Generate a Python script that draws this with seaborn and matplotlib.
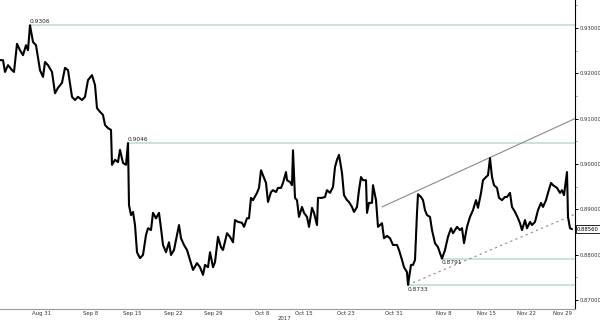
import matplotlib
matplotlib.use("Agg")
import matplotlib.pyplot as plt
import seaborn as sns
import pandas as pd
import numpy as np

# ---- data ----
bar_pos = [0, 3, 5, 8, 12, 14, 17, 20, 23, 26, 28, 30, 33, 36, 40, 43, 45, 48, 52, 55,
           58, 62, 65, 68, 72, 75, 78, 82, 85, 88, 92, 95, 97, 100, 103, 105, 108, 111, 112, 115,
           118, 120, 123, 126, 128, 129, 131, 133, 135, 137, 140, 143, 146, 148, 151, 153, 156, 159, 161, 163,
           166, 169, 171, 174, 177, 179, 181, 184, 187, 190, 193, 197, 200, 203, 205, 208, 210, 213, 215, 218,
           221, 223, 227, 230, 233, 235, 238, 242, 244, 247, 249, 251, 253, 257, 259, 261, 263, 266, 268, 271,
           273, 276, 278, 281, 283, 286, 287, 290, 292, 293, 295, 297, 299, 302, 304, 307, 309, 312, 314, 317,
           318, 322, 325, 327, 330, 333, 335, 337, 339, 342, 344, 347, 349, 352, 354, 357, 359, 361, 363, 366,
           367, 369, 372, 373, 376, 378, 380, 382, 384, 387, 390, 393, 397, 399, 402, 404, 407, 408, 411, 413,
           415, 417, 418, 421, 423, 425, 427, 430, 432, 435, 438, 440, 442, 445, 448, 451, 453, 457, 460, 462,
           464, 467, 470, 473, 476, 478, 481, 483, 486, 488, 490, 492, 494, 497, 499, 502, 505, 507, 510, 512,
           515, 518, 520, 522, 525, 527, 530, 532, 535, 538, 541, 543, 546, 548, 551, 553, 557, 560, 562, 564,
           567, 568, 570, 572]
close = [0.9229, 0.9229, 0.9203, 0.9218, 0.9207, 0.9203, 0.9265, 0.9251, 0.9240, 0.9262, 0.9251, 0.9306, 0.9269, 0.9262, 0.9207, 0.9192, 0.9225, 0.9218, 0.9203, 0.9156,
         0.9168, 0.9179, 0.9212, 0.9207, 0.9148, 0.9141, 0.9148, 0.9141, 0.9148, 0.9185, 0.9196, 0.9174, 0.9123, 0.9115, 0.9108, 0.9086, 0.9079, 0.9075, 0.8998, 0.9009,
         0.9004, 0.9031, 0.9002, 0.8998, 0.9046, 0.8909, 0.8887, 0.8894, 0.8865, 0.8805, 0.8792, 0.8799, 0.8843, 0.8858, 0.8854, 0.8892, 0.8880, 0.8892, 0.8858, 0.8821,
         0.8805, 0.8827, 0.8799, 0.8810, 0.8843, 0.8865, 0.8836, 0.8821, 0.8810, 0.8788, 0.8766, 0.8781, 0.8772, 0.8755, 0.8777, 0.8772, 0.8805, 0.8772, 0.8783, 0.8839,
         0.8816, 0.8810, 0.8847, 0.8839, 0.8827, 0.8876, 0.8872, 0.8870, 0.8861, 0.8880, 0.8880, 0.8925, 0.8920, 0.8936, 0.8947, 0.8986, 0.8975, 0.8958, 0.8916, 0.8938,
         0.8942, 0.8938, 0.8947, 0.8947, 0.8958, 0.8982, 0.8964, 0.8960, 0.8953, 0.9030, 0.8925, 0.8920, 0.8883, 0.8905, 0.8892, 0.8883, 0.8861, 0.8903, 0.8892, 0.8865,
         0.8925, 0.8925, 0.8927, 0.8942, 0.8936, 0.8949, 0.8993, 0.9009, 0.9020, 0.8980, 0.8931, 0.8920, 0.8916, 0.8905, 0.8894, 0.8905, 0.8942, 0.8971, 0.8964, 0.8964,
         0.8892, 0.8914, 0.8914, 0.8953, 0.8920, 0.8861, 0.8865, 0.8869, 0.8836, 0.8841, 0.8836, 0.8821, 0.8821, 0.8810, 0.8788, 0.8772, 0.8761, 0.8733, 0.8777, 0.8777,
         0.8788, 0.8892, 0.8933, 0.8927, 0.8920, 0.8898, 0.8887, 0.8883, 0.8854, 0.8825, 0.8816, 0.8803, 0.8791, 0.8810, 0.8839, 0.8858, 0.8847, 0.8861, 0.8854, 0.8858,
         0.8825, 0.8861, 0.8883, 0.8898, 0.8920, 0.8903, 0.8936, 0.8964, 0.8971, 0.8975, 0.9013, 0.8971, 0.8953, 0.8947, 0.8925, 0.8920, 0.8927, 0.8927, 0.8936, 0.8905,
         0.8894, 0.8880, 0.8869, 0.8854, 0.8876, 0.8858, 0.8872, 0.8865, 0.8872, 0.8898, 0.8914, 0.8905, 0.8920, 0.8936, 0.8958, 0.8953, 0.8947, 0.8936, 0.8942, 0.8931,
         0.8982, 0.8883, 0.8858, 0.8856]

tick_pos = [42, 91, 132, 173, 213, 262, 304, 346, 394, 444, 486, 526, 562]
tick_labels = ["Aug 31", "Sep 8", "Sep 15", "Sep 22", "Sep 29", "Oct 8", "Oct 15",
               "Oct 23", "Oct 31", "Nov 8", "Nov 15", "Nov 22", "Nov 29"]
y_ticks = [0.87, 0.88, 0.89, 0.90, 0.91, 0.92, 0.93]

levels = [0.9306, 0.9046, 0.8791, 0.8733]
level_start = [30, 128, 442, 408]
level_text_below = [False, False, True, True]

upper_trend_x = [382, 575]
upper_trend_y = [0.8905, 0.9100]
lower_trend_x = [408, 575]
lower_trend_y = [0.8733, 0.8889]

last_price = 0.8856
year_label = "2017"

# ---- figure ----
sns.set_style("white")
plt.rcParams['font.family'] = ['DejaVu Sans']

fig = plt.figure(figsize=(6.0, 3.23), dpi=100)
ax = fig.add_axes([0.0, 14 / 323, 575 / 600, 309 / 323])

x_max = 575
ax.set_xlim(0, x_max)
ax.set_ylim(0.86797, 0.93618)

level_color = "#c9ded8"
for lv, xs, below in zip(levels, level_start, level_text_below):
    ax.hlines(lv, xs, x_max, color=level_color, lw=1.3, zorder=1)
    if below:
        ax.text(xs, lv - 0.0004, f"{lv:.4f}", fontsize=4.2, color="#222222",
                ha="left", va="top")
    else:
        ax.text(xs, lv + 0.0002, f"{lv:.4f}", fontsize=4.2, color="#222222",
                ha="left", va="bottom")

ax.plot(upper_trend_x, upper_trend_y, color="#8a8a8a", lw=0.8, zorder=2)
ax.plot(lower_trend_x, lower_trend_y, color="#8a8a8a", lw=0.8, ls=(0, (2, 3)), zorder=2)

df = pd.DataFrame({"bar": bar_pos, "close": close})
sns.lineplot(data=df, x="bar", y="close", color="black", linewidth=1.5,
             estimator=None, sort=False, ax=ax, zorder=3)
ax.set_xlabel("")
ax.set_ylabel("")

# spines
for s in ["top", "left"]:
    ax.spines[s].set_visible(False)
ax.spines["right"].set_color("black")
ax.spines["right"].set_linewidth(0.8)
ax.spines["bottom"].set_color("#9a9a9a")
ax.spines["bottom"].set_linewidth(0.8)

# y axis on the right
ax.yaxis.tick_right()
ax.set_yticks(y_ticks)
ax.set_yticklabels([f"{v:.5f}" for v in y_ticks])
ax.set_yticks([v + 0.005 for v in y_ticks], minor=True)
ax.tick_params(axis="y", which="major", direction="out", length=2.5, width=0.7,
               labelsize=3.8, labelcolor="#333333", pad=0.8, color="black")
ax.tick_params(axis="y", which="minor", direction="out", length=1.2, width=0.5,
               color="#777777")

# x axis
ax.set_xticks(tick_pos)
ax.set_xticklabels(tick_labels)
ax.set_xticks(np.arange(2, x_max, 4.7), minor=True)
ax.tick_params(axis="x", which="major", length=0, labelsize=3.9,
               labelcolor="#333333", pad=1.2)
ax.tick_params(axis="x", which="minor", direction="out", length=1.3, width=0.5,
               color="#888888")

fig.text(284 / 600, 1 - 319 / 323, year_label, fontsize=3.9, color="#333333",
         ha="center", va="center")

# last price box
ax.text(x_max + 2, last_price, f"{last_price:.5f}", fontsize=3.8, color="black",
        ha="left", va="center", clip_on=False,
        bbox=dict(boxstyle="square,pad=0.25", fc="white", ec="black", lw=0.6))

fig.savefig("out.png", dpi=100)
